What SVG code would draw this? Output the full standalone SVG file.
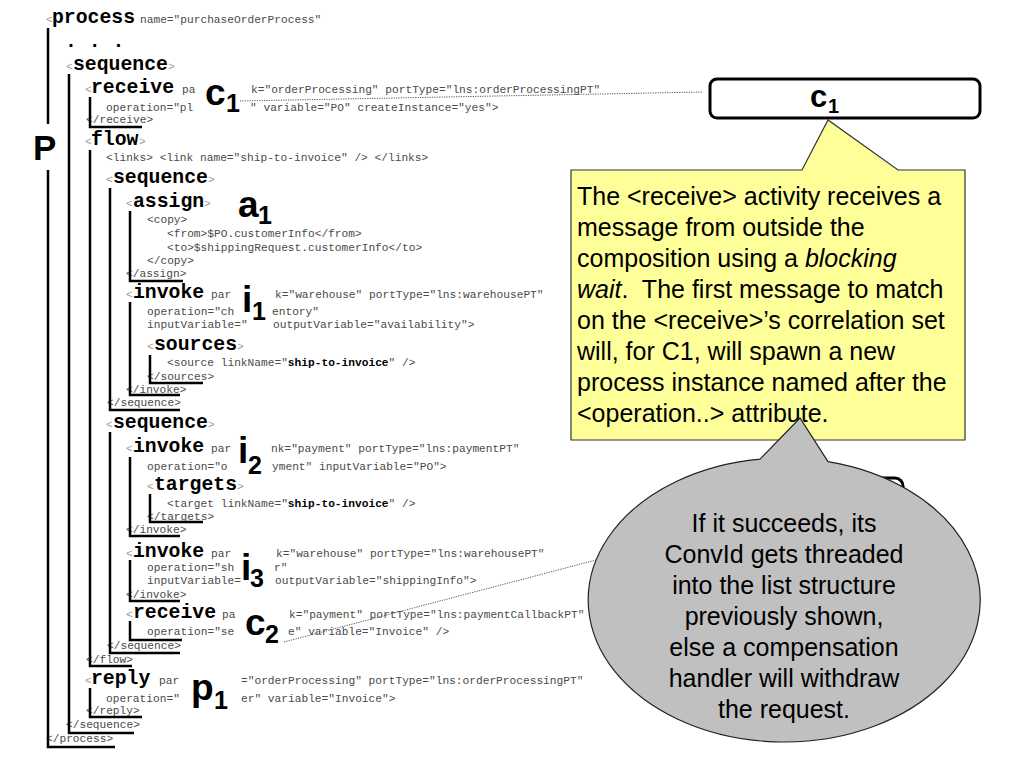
<svg xmlns="http://www.w3.org/2000/svg" width="1024" height="768" viewBox="0 0 1024 768">
<defs>
<style>
.code{font-family:"Liberation Mono","DejaVu Sans Mono",monospace;font-size:11.2px;fill:#4a4a4a}
.cb{font-weight:bold;fill:#000}
.kw{font-family:"Liberation Mono","DejaVu Sans Mono",monospace;font-weight:bold;font-size:19.8px;fill:#000}
.ab{font-family:"Liberation Mono","DejaVu Sans Mono",monospace;font-size:11.2px;fill:#999}
.lbl{font-family:"Liberation Sans",Arial,sans-serif;font-weight:bold;font-size:37px;fill:#000}
.sub{font-family:"Liberation Sans",Arial,sans-serif;font-weight:bold;font-size:25px;fill:#000}
.br{stroke:#000;stroke-width:2.5;fill:none}
.dot{stroke:#555;stroke-width:1;stroke-dasharray:1.2 1.2;fill:none}
.note{font-family:"Liberation Sans",Arial,sans-serif;font-size:25px;fill:#000}
.box{fill:#fff;stroke:#000;stroke-width:3}
</style>
</defs>
<rect width="1024" height="768" fill="#fff"/>

<g id="code">
<text class="ab" x="46" y="23">&lt;</text><text class="kw" x="52" y="23">process</text><text class="code" x="140" y="23">name="purchaseOrderProcess"</text>
<text class="kw" x="65" y="47">. . .</text>
<text class="ab" x="66" y="70">&lt;</text><text class="kw" x="73" y="70">sequence</text><text class="ab" x="168" y="70">&gt;</text>
<text class="ab" x="85" y="93">&lt;</text><text class="kw" x="91" y="93">receive</text><text class="code" x="182" y="93">pa</text><text class="code" x="251" y="93">k="orderProcessing" portType="lns:orderProcessingPT"</text>
<text class="code" x="106" y="111">operation="pl</text><text class="code" x="250" y="111">" variable="PO" createInstance="yes"&gt;</text>
<text class="code" x="86" y="123">&lt;/receive&gt;</text>
<text class="ab" x="85" y="145">&lt;</text><text class="kw" x="91" y="145">flow</text><text class="ab" x="139" y="145">&gt;</text>
<text class="code" x="106" y="161">&lt;links&gt; &lt;link name="ship-to-invoice" /&gt; &lt;/links&gt;</text>
<text class="ab" x="106" y="183">&lt;</text><text class="kw" x="113" y="183">sequence</text><text class="ab" x="208" y="183">&gt;</text>
<text class="ab" x="126" y="207">&lt;</text><text class="kw" x="133" y="207">assign</text><text class="ab" x="204" y="207">&gt;</text>
<text class="code" x="147" y="223">&lt;copy&gt;</text>
<text class="code" x="167" y="237">&lt;from&gt;$PO.customerInfo&lt;/from&gt;</text>
<text class="code" x="167" y="251">&lt;to&gt;$shippingRequest.customerInfo&lt;/to&gt;</text>
<text class="code" x="147" y="264">&lt;/copy&gt;</text>
<text class="code" x="126" y="277">&lt;/assign&gt;</text>
<text class="ab" x="126" y="298">&lt;</text><text class="kw" x="133" y="298">invoke</text><text class="code" x="211" y="298">par</text><text class="code" x="275" y="298">k="warehouse" portType="lns:warehousePT"</text>
<text class="code" x="147" y="315">operation="ch</text><text class="code" x="272" y="315">entory"</text>
<text class="code" x="147" y="328">inputVariable="</text><text class="code" x="273" y="328">outputVariable="availability"&gt;</text>
<text class="ab" x="147" y="350">&lt;</text><text class="kw" x="154" y="350">sources</text><text class="ab" x="237" y="350">&gt;</text>
<text class="code" x="167" y="366">&lt;source linkName="<tspan class="cb">ship-to-invoice</tspan>" /&gt;</text>
<text class="code" x="147" y="380">&lt;/sources&gt;</text>
<text class="code" x="126" y="393">&lt;/invoke&gt;</text>
<text class="code" x="107" y="406">&lt;/sequence&gt;</text>
<text class="ab" x="106" y="428">&lt;</text><text class="kw" x="113" y="428">sequence</text><text class="ab" x="208" y="428">&gt;</text>
<text class="ab" x="126" y="452">&lt;</text><text class="kw" x="133" y="452">invoke</text><text class="code" x="211" y="452">par</text><text class="code" x="271" y="452">nk="payment" portType="lns:paymentPT"</text>
<text class="code" x="147" y="470">operation="o</text><text class="code" x="272" y="470">yment" inputVariable="PO"&gt;</text>
<text class="ab" x="147" y="490">&lt;</text><text class="kw" x="154" y="490">targets</text><text class="ab" x="237" y="490">&gt;</text>
<text class="code" x="167" y="507">&lt;target linkName="<tspan class="cb">ship-to-invoice</tspan>" /&gt;</text>
<text class="code" x="147" y="520">&lt;/targets&gt;</text>
<text class="code" x="126" y="533">&lt;/invoke&gt;</text>
<text class="ab" x="126" y="557">&lt;</text><text class="kw" x="133" y="557">invoke</text><text class="code" x="211" y="557">par</text><text class="code" x="276" y="557">k="warehouse" portType="lns:warehousePT"</text>
<text class="code" x="147" y="571">operation="sh</text><text class="code" x="274" y="571">r"</text>
<text class="code" x="147" y="584">inputVariable=</text><text class="code" x="275" y="584">outputVariable="shippingInfo"&gt;</text>
<text class="code" x="126" y="598">&lt;/invoke&gt;</text>
<text class="ab" x="126" y="618">&lt;</text><text class="kw" x="133" y="618">receive</text><text class="code" x="222" y="618">pa</text><text class="code" x="289" y="618">k="payment" portType="lns:paymentCallbackPT"</text>
<text class="code" x="147" y="635">operation="se</text><text class="code" x="288" y="635">e" variable="Invoice" /&gt;</text>
<text class="code" x="107" y="649">&lt;/sequence&gt;</text>
<text class="code" x="86" y="663">&lt;/flow&gt;</text>
<text class="ab" x="85" y="684">&lt;</text><text class="kw" x="91" y="684">reply</text><text class="code" x="159" y="684">par</text><text class="code" x="241" y="684">="orderProcessing" portType="lns:orderProcessingPT"</text>
<text class="code" x="106" y="702">operation="</text><text class="code" x="241" y="702">er" variable="Invoice"&gt;</text>
<text class="code" x="86" y="714">&lt;/reply&gt;</text>
<text class="code" x="66" y="728">&lt;/sequence&gt;</text>
<text class="code" x="46" y="742">&lt;/process&gt;</text>
</g>

<g id="brackets">
<path class="br" d="M48,28 V124 M48,170 V747 H115"/>
<path class="br" d="M69,74 V733 H134"/>
<path class="br" d="M90,97 V127 H142"/>
<path class="br" d="M90,150 V666 H132"/>
<path class="br" d="M110,188 V410 H180"/>
<path class="br" d="M130,211 V281 H183"/>
<path class="br" d="M130,302 V395 H180"/>
<path class="br" d="M150,355 V383 H203"/>
<path class="br" d="M110,432 V653 H180"/>
<path class="br" d="M130,457 V536 H180"/>
<path class="br" d="M150,494 V522 H203"/>
<path class="br" d="M130,560 V601 H180"/>
<path class="br" d="M130,621 V640 H182"/>
<path class="br" d="M90,688 V717 H142"/>
</g>

<g id="connectors">
<line class="dot" x1="240" y1="101" x2="703" y2="92"/>
<line class="dot" x1="284" y1="642" x2="596" y2="560"/>
</g>

<g id="labels">
<text class="lbl" x="33" y="160" style="font-size:35px">P</text>
<g id="lbl-c1"><text class="lbl" x="205" y="105">c</text><text class="sub" x="226" y="112">1</text></g>
<g id="lbl-a1"><text class="lbl" x="238" y="217">a</text><text class="sub" x="258" y="224">1</text></g>
<g id="lbl-i1"><text class="lbl" x="242" y="312">i</text><text class="sub" x="252" y="320">1</text></g>
<g id="lbl-i2"><text class="lbl" x="238" y="463">i</text><text class="sub" x="248" y="474">2</text></g>
<g id="lbl-i3"><text class="lbl" x="241" y="580">i</text><text class="sub" x="250" y="587">3</text></g>
<g id="lbl-c2"><text class="lbl" x="245" y="635">c</text><text class="sub" x="265" y="643">2</text></g>
<g id="lbl-p1"><text class="lbl" x="191" y="700">p</text><text class="sub" x="214" y="709">1</text></g>
</g>

<g id="node-c1">
<rect class="box" x="710" y="79" width="270" height="39" rx="7"/>
<text x="810" y="107" style="font-family:'Liberation Sans',Arial,sans-serif;font-weight:bold;font-size:31px">c</text>
<text x="828" y="113" style="font-family:'Liberation Sans',Arial,sans-serif;font-weight:bold;font-size:20px">1</text>
</g>

<g id="node-hidden">
<rect class="box" x="700" y="478" width="203" height="42" rx="8"/>
</g>

<g id="note-yellow">
<path d="M571,170 H802 L828,120 L898,170 H965 V440 H571 Z" fill="#ffff99" stroke="#333" stroke-width="1.2"/>
<text class="note" x="577" y="205">The &lt;receive&gt; activity receives a</text>
<text class="note" x="577" y="236">message from outside the</text>
<text class="note" x="577" y="267">composition using a <tspan font-style="italic">blocking</tspan></text>
<text class="note" x="577" y="298"><tspan font-style="italic">wait</tspan>.&#160; The first message to match</text>
<text class="note" x="577" y="329">on the &lt;receive&gt;’s correlation set</text>
<text class="note" x="577" y="360">will, for C1, will spawn a new</text>
<text class="note" x="577" y="391">process instance named after the</text>
<text class="note" x="577" y="422">&lt;operation..&gt; attribute.</text>
</g>

<g id="note-gray">
<path d="M760,459.1 L800,418 L828,461.6 A196,142 0 1 1 760,459.1 Z" fill="#c0c0c0" stroke="#222" stroke-width="1.2"/>
<g class="note" text-anchor="middle">
<text x="784" y="532">If it succeeds, its</text>
<text x="784" y="563">ConvId gets threaded</text>
<text x="784" y="594">into the list structure</text>
<text x="784" y="625">previously shown,</text>
<text x="784" y="656">else a compensation</text>
<text x="784" y="687">handler will withdraw</text>
<text x="784" y="718">the request.</text>
</g>
</g>
</svg>
